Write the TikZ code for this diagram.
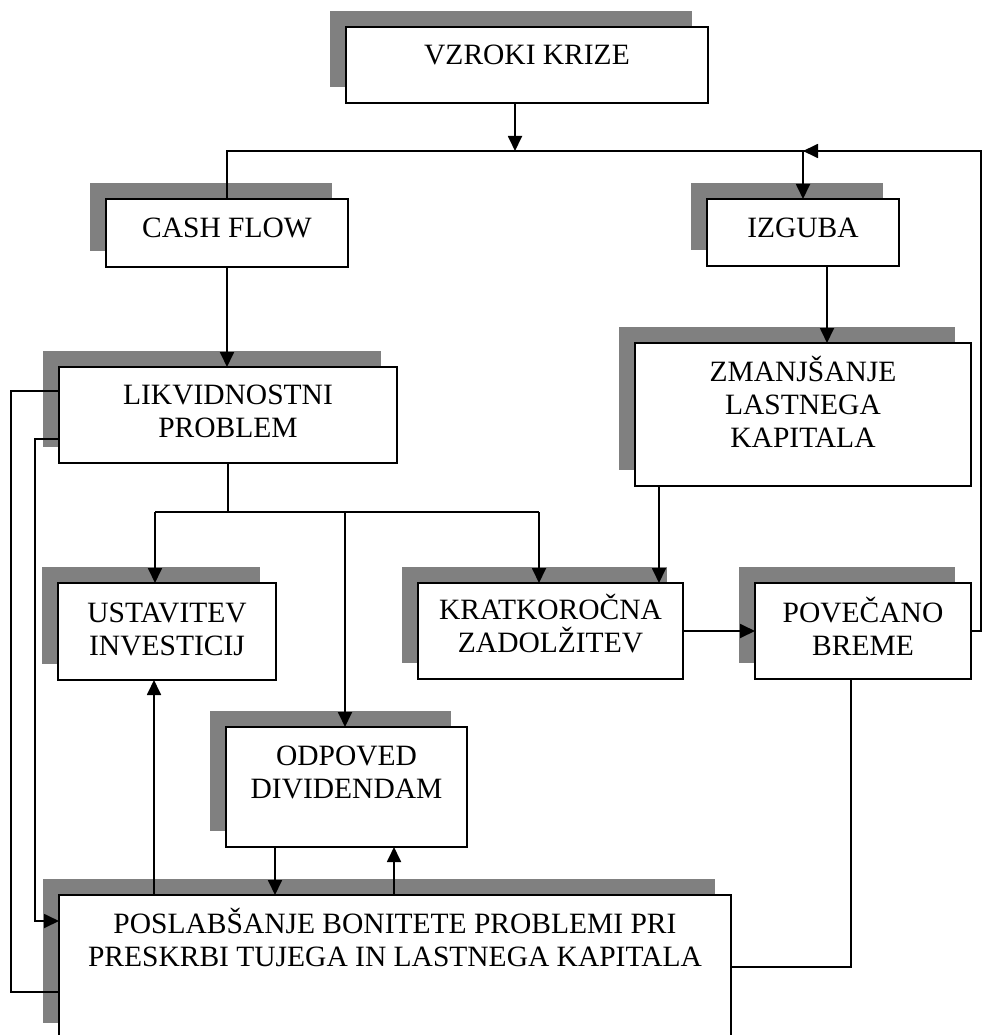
\documentclass[tikz,border=0pt]{standalone}
\usepackage{fontspec}
\setmainfont{Liberation Serif}
\usetikzlibrary{arrows.meta,calc}
\tikzset{
  boxshape/.style={draw=black, fill=white, line width=1.8pt, inner sep=0pt, outer sep=0pt, anchor=north west},
  shadowfill/.style={fill=gray},
  lbl/.style={inner sep=0pt, anchor=base, font=\fontsize{29.5}{33}\selectfont},
  conn/.style={line width=1.8pt},
  arr/.style={conn, -{Triangle[length=15pt,width=14pt]}},
}
\newcommand{\shbox}[7]{%
  \fill[shadowfill] (#2-16,#3-16) rectangle ++(#4,#5);
  \node[boxshape, minimum width=#4pt, minimum height=#5pt] (#1) at (#2,#3) {};
  \node[lbl] (#1-t) at ($(#1.north)+(0,#6)$) {\parbox[t]{#4pt}{\centering #7}};
}
\begin{document}
\begin{tikzpicture}[x=1pt,y=-1pt]
\useasboundingbox (0,0) rectangle (982,1035);

\shbox{vzroki}{346}{27}{362}{76}{38}{VZROKI KRIZE}
\shbox{cash}{106}{199}{242}{68}{38}{CASH FLOW}
\shbox{izguba}{707}{199}{192}{67}{38}{IZGUBA}
\shbox{likvid}{59}{367}{338}{96}{37}{LIKVIDNOSTNI\\PROBLEM}
\shbox{zmanj}{635}{343}{336}{143}{38}{ZMANJŠANJE\\LASTNEGA\\KAPITALA}
\shbox{ustav}{58}{583}{218}{97}{39}{USTAVITEV\\INVESTICIJ}
\shbox{kratk}{418}{583}{265}{96}{36}{KRATKOROČNA\\ZADOLŽITEV}
\shbox{povec}{755}{583}{216}{96}{39}{POVEČANO\\BREME}
\shbox{odpov}{226}{727}{241}{120}{38}{ODPOVED\\DIVIDENDAM}
\shbox{poslab}{59}{895}{672}{144}{38}{POSLABŠANJE BONITETE PROBLEMI PRI\\PRESKRBI TUJEGA IN LASTNEGA KAPITALA}

% top distribution line
\coordinate (j1) at (515,151);
\coordinate (j2) at (803,151);
\coordinate (rt) at (981,151);
\draw[arr] (j1 |- vzroki.south) -- (j1);
\draw[conn] (cash.north) |- (rt);
\draw[arr] (povec.east) -| (rt) -- (j2);
\draw[arr] (j2) -- (j2 |- izguba.north);

% right branch
\draw[arr] ([xshift=24pt]izguba.south) -- ([xshift=24pt]izguba.south |- zmanj.north);
\draw[arr] ([xshift=24pt]zmanj.south west) -- ([xshift=24pt]zmanj.south west |- kratk.north);
\draw[arr] (kratk.east) -- (povec.west);
\draw[conn] ([xshift=96pt]povec.south west) |- (poslab.east);

% left branch
\draw[arr] (cash.south) -- (cash.south |- likvid.north);
\coordinate (bL) at (155,512);
\coordinate (bM) at (345,512);
\coordinate (bR) at (539,512);
\draw[conn] (likvid.south) -- (likvid.south |- bL);
\draw[conn] (bL) -- (bR);
\draw[arr] (bL) -- (bL |- ustav.north);
\draw[arr] (bM) -- (bM |- odpov.north);
\draw[arr] (bR) -- (bR |- kratk.north);

% bottom links
\draw[arr] ([xshift=95pt]poslab.north west) -- ([xshift=95pt]poslab.north west |- ustav.south);
\draw[arr] ([xshift=49pt]odpov.south west) -- ([xshift=49pt]odpov.south west |- poslab.north);
\draw[arr] ([xshift=168pt]odpov.south west |- poslab.north) -- ([xshift=168pt]odpov.south west);

% left feedback lines
\draw[conn] ([yshift=-24pt]likvid.north west) -- ++(-48,0) |- ([yshift=-97pt]poslab.north west);
\draw[arr] ([yshift=-72pt]likvid.north west) -- ++(-24,0) |- ([yshift=-26pt]poslab.north west);
\end{tikzpicture}
\end{document}
